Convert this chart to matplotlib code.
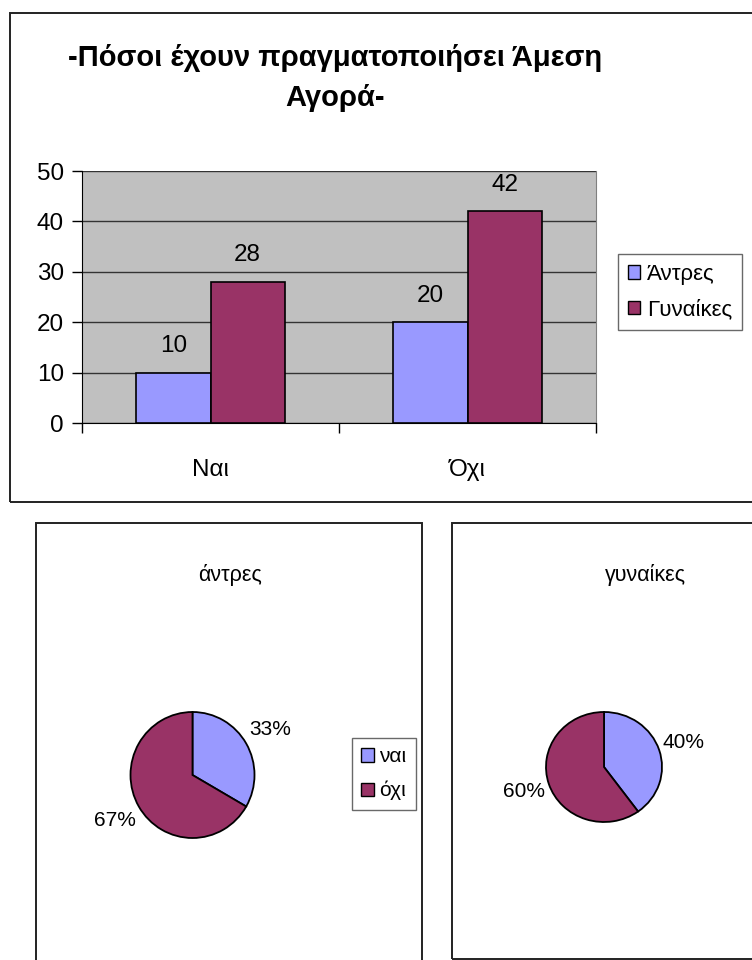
import matplotlib
matplotlib.use("Agg")
from matplotlib import pyplot as plt
from matplotlib.patches import Rectangle, Patch

plt.rcParams['font.family'] = ['Liberation Sans', 'DejaVu Sans']

categories = ["Ναι", "Όχι"]
men = [10, 20]
women = [28, 42]
series_names = ["Άντρες", "Γυναίκες"]
pie_labels = ["ναι", "όχι"]
pie_titles = ["άντρες", "γυναίκες"]
yticks = [0, 10, 20, 30, 40, 50]

c_men = "#9999FF"
c_women = "#993366"

W, H = 752, 960
fig = plt.figure(figsize=(W / 100, H / 100), dpi=100)


def box(x0, y0, x1, y1):
    # pixel coords (top-left origin) -> figure rectangle
    r = Rectangle((x0 / W, 1 - y1 / H), (x1 - x0) / W, (y1 - y0) / H,
                  transform=fig.transFigure, fill=False, edgecolor="#222222",
                  linewidth=1.4, zorder=0)
    fig.add_artist(r)


def px_axes(x0, y0, x1, y1):
    return fig.add_axes([x0 / W, 1 - y1 / H, (x1 - x0) / W, (y1 - y0) / H])


# outer boxes
box(10, 13, 780, 502)
box(36, 523, 422, 990)
box(452, 523, 860, 959)

# bar chart
ax = px_axes(82, 171, 596, 423)
ax.set_facecolor("#C0C0C0")
bw = 0.288
xs = range(len(categories))
b1 = ax.bar([x - bw / 2 for x in xs], men, bw, color=c_men, edgecolor="black", linewidth=1.2, zorder=3)
b2 = ax.bar([x + bw / 2 for x in xs], women, bw, color=c_women, edgecolor="black", linewidth=1.2, zorder=3)
for bars, vals in ((b1, men), (b2, women)):
    for rect, v in zip(bars, vals):
        ax.annotate(str(v), (rect.get_x() + rect.get_width() / 2, v),
                    xytext=(0, 19), textcoords="offset points",
                    ha="center", va="center", fontsize=17.5)
ax.set_xlim(-0.5, 1.5)
ax.set_ylim(0, 50)
ax.set_yticks(yticks)
ax.yaxis.grid(True, color="#333333", linewidth=1)
ax.set_axisbelow(True)
ax.set_xticks(list(xs))
ax.set_xticklabels(categories)
ax.set_xticks([-0.5, 0.5, 1.5], minor=True)
ax.tick_params(axis="x", which="major", length=0, pad=26, labelsize=17.5)
ax.tick_params(axis="x", which="minor", length=7, direction="out", width=1)
ax.tick_params(axis="y", length=7, width=1, pad=6, labelsize=17.5)
ax.spines["top"].set_visible(False)
ax.spines["right"].set_color("#808080")
for s in ("left", "bottom"):
    ax.spines[s].set_color("black")

leg = fig.legend([Patch(facecolor=c_men, edgecolor="black"), Patch(facecolor=c_women, edgecolor="black")],
                 series_names, loc="upper left", bbox_to_anchor=(618 / W, 1 - 254 / H),
                 fancybox=False, edgecolor="#444444", fontsize=16, handlelength=0.55,
                 handleheight=0.55, handletextpad=0.3, labelspacing=0.65, borderpad=0.45,
                 borderaxespad=0)
leg.get_frame().set_linewidth(1)

# pies
pie_data = [men, women]
pie_boxes = [(192.5, 775, 62, 63), (604, 767, 58, 55)]
title_x = [230, 645]
for vals, title, (cx, cy, rx, ry), tx in zip(pie_data, pie_titles, pie_boxes, title_x):
    pa = px_axes(cx - 1.25 * rx, cy - 1.25 * ry, cx + 1.25 * rx, cy + 1.25 * ry)
    pa.pie(vals, colors=[c_men, c_women], startangle=90, counterclock=False,
           autopct="%1.0f%%", pctdistance=1.45,
           wedgeprops=dict(edgecolor="black", linewidth=1.3),
           textprops=dict(fontsize=15))
    pa.set_aspect("auto")
    pa.set_xlim(-1.25, 1.25)
    pa.set_ylim(-1.25, 1.25)
    fig.text(tx / W, 1 - 575 / H, title, ha="center", va="center", fontsize=15.5)

leg2 = fig.legend([Patch(facecolor=c_men, edgecolor="black"), Patch(facecolor=c_women, edgecolor="black")],
                  pie_labels, loc="upper left", bbox_to_anchor=(352 / W, 1 - 738 / H),
                  fancybox=False, edgecolor="#444444", fontsize=15, handlelength=0.6,
                  handleheight=0.6, handletextpad=0.25, labelspacing=0.7, borderpad=0.45,
                  borderaxespad=0)
leg2.get_frame().set_linewidth(1)

fig.text(335 / W, 1 - 78 / H, "-Πόσοι έχουν πραγματοποιήσει Άμεση\nΑγορά-",
         ha="center", va="center", fontsize=21, fontweight="bold", linespacing=1.55)

fig.savefig("out.png", dpi=100)
